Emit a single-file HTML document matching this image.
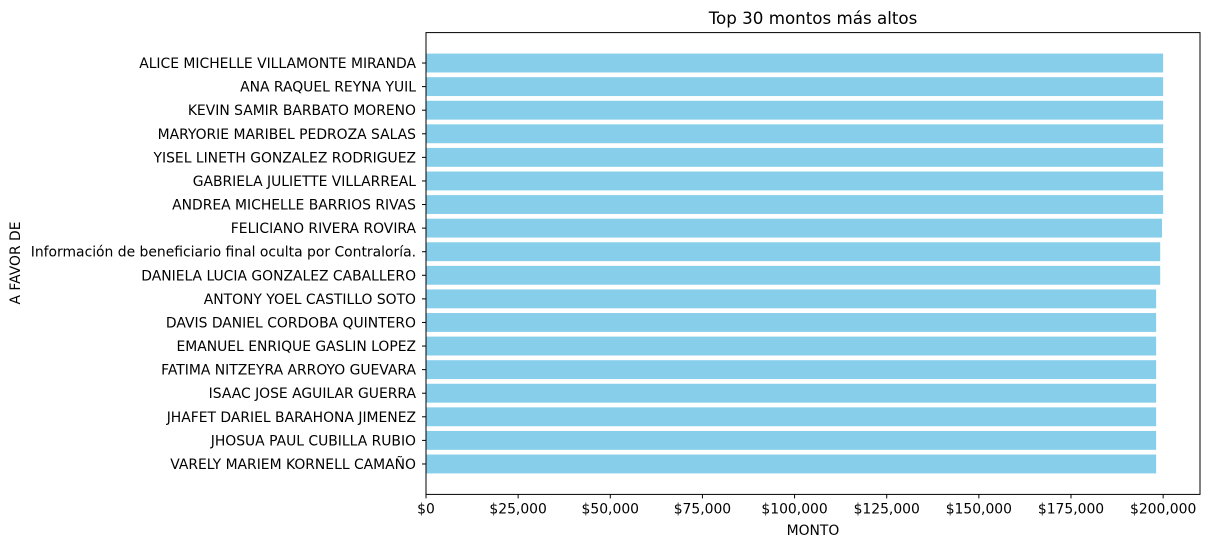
<!DOCTYPE html>
<html><head><meta charset="utf-8"><style>
html,body{margin:0;padding:0;background:#fff;}
svg{display:block;font-family:"DejaVu Sans","Liberation Sans",sans-serif;}
</style></head><body>
<svg id="chart" width="1210" height="548">
<text x="813" y="24" font-size="16.7" text-anchor="middle">Top 30 montos más altos</text>
<text x="813" y="535" font-size="13.9" text-anchor="middle">MONTO</text>
<text transform="translate(20,263) rotate(-90)" font-size="13.9" text-anchor="middle">A FAVOR DE</text>
<g id="bars"></g><g id="xt"></g><g id="yt"></g>
<rect x="426" y="32.6" width="774" height="461.8" fill="none" stroke="#000" stroke-width="1"/>
</svg>
<script>
const names=["ALICE MICHELLE VILLAMONTE MIRANDA","ANA RAQUEL REYNA YUIL","KEVIN SAMIR BARBATO MORENO","MARYORIE MARIBEL PEDROZA SALAS","YISEL LINETH GONZALEZ RODRIGUEZ","GABRIELA JULIETTE VILLARREAL","ANDREA MICHELLE BARRIOS RIVAS","FELICIANO RIVERA ROVIRA","Información de beneficiario final oculta por Contraloría.","DANIELA LUCIA GONZALEZ CABALLERO","ANTONY YOEL CASTILLO SOTO","DAVIS DANIEL CORDOBA QUINTERO","EMANUEL ENRIQUE GASLIN LOPEZ","FATIMA NITZEYRA ARROYO GUEVARA","ISAAC JOSE AGUILAR GUERRA","JHAFET DARIEL BARAHONA JIMENEZ","JHOSUA PAUL CUBILLA RUBIO","VARELY MARIEM KORNELL CAMAÑO"];
const values=[200000,200000,200000,200000,200000,200000,200000,199700,199200,199200,198100,198100,198100,198100,198100,198100,198100,198100];
const xTicks=[0,25000,50000,75000,100000,125000,150000,175000,200000];
const xTickLabels=["$0","$25,000","$50,000","$75,000","$100,000","$125,000","$150,000","$175,000","$200,000"];
const NS="http://www.w3.org/2000/svg";
const x0=426,x1=1200,xmax=210000;
const X=v=>x0+v/xmax*(x1-x0);
const yTop=32.6,yBot=494.4,n=names.length;
const lo=-0.4-0.89,hi=n-1+0.4+0.89;
const Y=i=>yTop+(i-lo)/(hi-lo)*(yBot-yTop);
const step=(yBot-yTop)/(hi-lo);
function mk(t,a,p){const e=document.createElementNS(NS,t);for(const k in a)e.setAttribute(k,a[k]);p.appendChild(e);return e;}
const gb=document.getElementById('bars'),gx=document.getElementById('xt'),gy=document.getElementById('yt');
names.forEach((nm,i)=>{
 const r=mk('rect',{x:X(0),y:Y(i)-0.4*step,width:X(values[i])-X(0),height:0.8*step,fill:'#87ceeb'},gb);
 
 
 mk('line',{x1:x0,x2:x0-4,y1:Y(i),y2:Y(i),stroke:'#000'},gy);
 const t=mk('text',{x:x0-10,y:Y(i)+5,'font-size':13.9,'text-anchor':'end'},gy);t.textContent=nm;
 
 
});
xTicks.forEach((v,i)=>{
 mk('line',{x1:X(v),x2:X(v),y1:yBot,y2:yBot+4,stroke:'#000'},gx);
 const t=mk('text',{x:X(v),y:yBot+19,'font-size':13.9,'text-anchor':'middle'},gx);t.textContent=xTickLabels[i];
 
 
});
</script>
</body></html>
